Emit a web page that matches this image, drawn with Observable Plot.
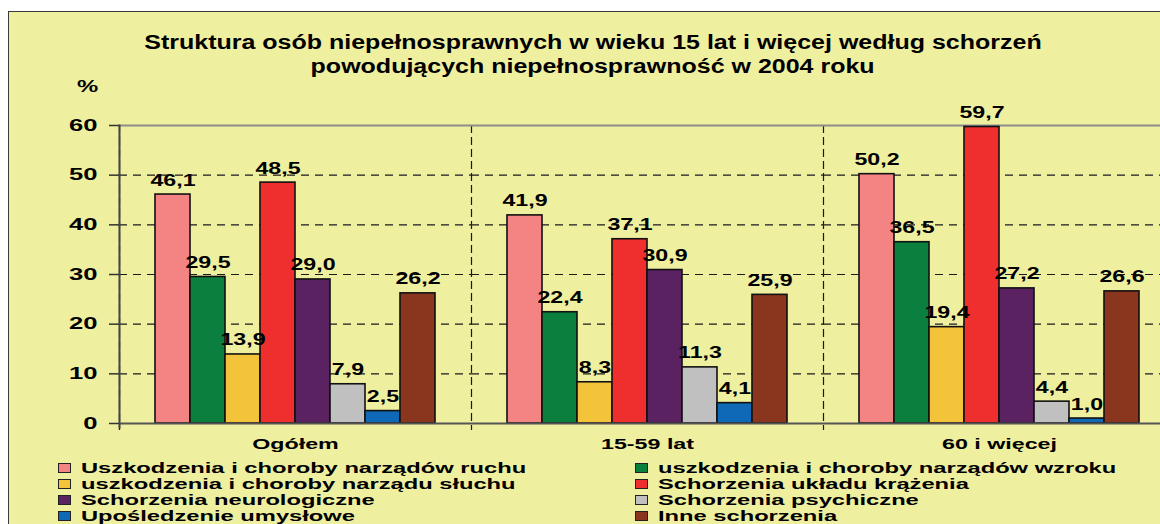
<!DOCTYPE html>
<html><head><meta charset="utf-8">
<script src="https://cdn.jsdelivr.net/npm/d3@7"></script>
<script src="https://cdn.jsdelivr.net/npm/@observablehq/plot@0.6"></script>
<style>
html,body{margin:0;padding:0;overflow:hidden;background:#fff;width:1160px;height:524px}
#page{position:relative;width:1160px;height:524px;overflow:hidden;background:#fff;font-family:"Liberation Sans",Arial,sans-serif;color:#000}
#box{position:absolute;left:8px;top:11px;width:1300px;height:600px;background:#EFEFA0;border-left:1.5px solid #3a3a3a;border-top:1.5px solid #3a3a3a}
#plotwrap{position:absolute;left:0;top:0;width:1180px}
#plotwrap svg{max-width:none}
#title{position:absolute;left:0;top:30px;width:1186px;text-align:center;font-weight:bold;font-size:20px;line-height:24px;white-space:nowrap}
#title span{display:inline-block;transform:scaleX(1.25);transform-origin:50% 50%}
#pct{position:absolute;left:77px;top:77px;font-weight:bold;font-size:17px;line-height:20px;transform:scaleX(1.4);transform-origin:0 0}
.leg{position:absolute;height:16px;line-height:16px;font-size:15px;font-weight:bold;white-space:nowrap}
.sw{position:absolute;left:0;top:3px;width:11px;height:8px;border:1.5px solid #222}
.lt{position:absolute;left:23px;top:0;transform:scaleX(1.58);transform-origin:0 0}
#plotwrap g[aria-label="y-axis tick label"]{font-size:16px}
#plotwrap g[aria-label="fx-axis tick label"]{font-size:15.5px}
</style>
</head><body>
<div id="page">
  <div id="box"></div>
  <div id="plotwrap"></div>
  <div id="title"></div>
  <div id="pct">%</div>
  <div id="legend"></div>
</div>
<script>
const titleLines = ["Struktura osób niepełnosprawnych w wieku 15 lat i więcej według schorzeń", "powodujących niepełnosprawność w 2004 roku"];
const groups = ["Ogółem", "15-59 lat", "60 i więcej"];
const series = [
  "Uszkodzenia i choroby narządów ruchu",
  "uszkodzenia i choroby narządów wzroku",
  "uszkodzenia i choroby narządu słuchu",
  "Schorzenia układu krążenia",
  "Schorzenia neurologiczne",
  "Schorzenia psychiczne",
  "Upośledzenie umysłowe",
  "Inne schorzenia"
];
const valuesOgolem = [46.1, 29.5, 13.9, 48.5, 29.0, 7.9, 2.5, 26.2];
const values1559   = [41.9, 22.4, 8.3, 37.1, 30.9, 11.3, 4.1, 25.9];
const values60     = [50.2, 36.5, 19.4, 59.7, 27.2, 4.4, 1.0, 26.6];
const colors = ["#F48383", "#0A7F3E", "#F3C33A", "#EF2E2E", "#5B2262", "#C0C0C0", "#1069B7", "#8A361F"];
const yTicks = [0, 10, 20, 30, 40, 50, 60];
const gridTicks = [10, 20, 30, 40, 50];

const groupValues = [valuesOgolem, values1559, values60];
const rows = groups.flatMap((g, gi) => series.map((s, si) => ({group: g, series: s, value: groupValues[gi][si]})));
const fmt = v => v.toFixed(1).replace(".", ",");

// Title
const titleEl = document.getElementById("title");
titleLines.forEach(t => { const d = document.createElement("div"); const s = document.createElement("span"); s.textContent = t; d.appendChild(s); titleEl.appendChild(d); });

const chart = Plot.plot({
  width: 1180, height: 460,
  marginLeft: 118, marginRight: 4, marginTop: 125, marginBottom: 37,
  style: {background: "transparent", fontFamily: "'Liberation Sans', Arial, sans-serif", fontSize: "16px", fontWeight: "bold", color: "#000", overflow: "visible"},
  fx: {domain: groups, padding: 0, label: null},
  x: {domain: series, paddingInner: 0, paddingOuter: 0.933, axis: null},
  y: {domain: [0, 60], label: null},
  color: {domain: series, range: colors},
  marks: [
    Plot.ruleY(gridTicks, {stroke: "#1a1a1a", strokeWidth: 1.2, strokeDasharray: "8,6"}),
    Plot.frame({anchor: "left", stroke: "#1a1a1a", strokeWidth: 1.2, strokeDasharray: "7,5", insetBottom: -6}),
    Plot.ruleY([60], {stroke: "#8c8c8c", strokeWidth: 2}),
    Plot.barY(rows, {fx: "group", x: "series", y: "value", fill: "series", stroke: "#111", strokeWidth: 1.6}),
    Plot.ruleY([0], {stroke: "#555", strokeWidth: 2}),
    Plot.frame({anchor: "left", facetAnchor: "left", stroke: "#444", strokeWidth: 2, insetBottom: -4}),
    Plot.text(rows, {fx: "group", x: "series", y: "value", text: d => fmt(d.value), lineAnchor: "bottom", dy: -9, fill: "#000", fontSize: 16, fontWeight: "bold"}),
    Plot.axisY({ticks: yTicks, tickFormat: d => String(d), tickSize: 10, tickPadding: 12, stroke: "#333", strokeWidth: 1.5, label: null}),
    Plot.axisFx({anchor: "bottom", tickSize: 0, tickPadding: 14, label: null})
  ]
});
document.getElementById("plotwrap").appendChild(chart);

// horizontal stretch of chart texts (matches reference typography):
// wrap each text in a <g> scaled horizontally about the text's anchor point
const scaleFor = lab => lab.includes("y-axis") ? 1.6 : lab.includes("fx-axis") ? 1.5 : 1.45;
const NS = "http://www.w3.org/2000/svg";
Array.from(chart.querySelectorAll("text")).forEach(t => {
  const lab = (t.closest("g[aria-label]") || {getAttribute: () => ""}).getAttribute("aria-label") || "";
  const s = scaleFor(lab);
  const w = document.createElementNS(NS, "g");
  t.parentNode.insertBefore(w, t);
  w.appendChild(t);
  const bb = w.getBBox();
  const anchor = getComputedStyle(t).textAnchor;
  const ax = anchor === "middle" ? bb.x + bb.width / 2 : anchor === "end" ? bb.x + bb.width : bb.x;
  w.setAttribute("transform", `translate(${ax},0) scale(${s},1) translate(${-ax},0)`);
});

// Legend: two columns, row-major
const legend = document.getElementById("legend");
series.forEach((s, i) => {
  const item = document.createElement("div");
  item.className = "leg";
  item.style.left = (i % 2 === 0 ? 58 : 635) + "px";
  item.style.top = (460 + Math.floor(i / 2) * 16) + "px";
  const sw = document.createElement("div"); sw.className = "sw"; sw.style.background = colors[i];
  const lt = document.createElement("div"); lt.className = "lt"; lt.textContent = s;
  item.appendChild(sw); item.appendChild(lt);
  legend.appendChild(item);
});
</script>
</body></html>
